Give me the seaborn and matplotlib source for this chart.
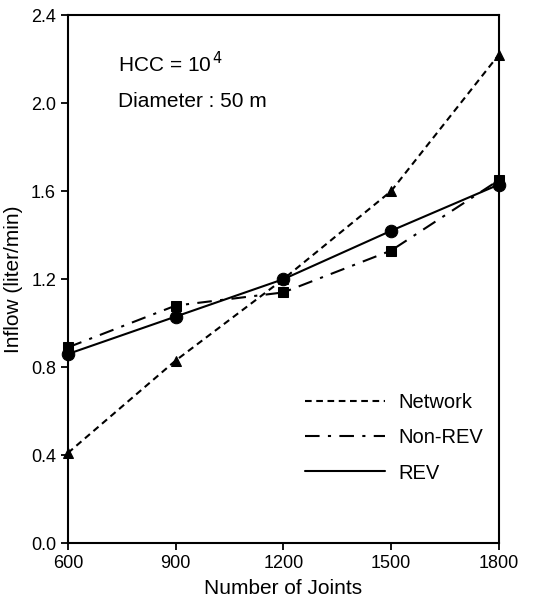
import numpy as np
import pandas as pd
import matplotlib
matplotlib.use("Agg")
import matplotlib.pyplot as plt
from matplotlib.lines import Line2D
import seaborn as sns

joints = [600, 900, 1200, 1500, 1800]
network = [0.41, 0.83, 1.20, 1.60, 2.22]
non_rev = [0.89, 1.08, 1.14, 1.33, 1.65]
rev = [0.86, 1.03, 1.20, 1.42, 1.63]

sns.set_style("ticks")
plt.rcParams['font.family'] = ['Liberation Sans', 'DejaVu Sans']
plt.rcParams['text.color'] = 'black'
plt.rcParams['axes.labelcolor'] = 'black'
plt.rcParams['xtick.color'] = 'black'
plt.rcParams['ytick.color'] = 'black'
plt.rcParams['axes.edgecolor'] = 'black'

df = pd.DataFrame({'joints': joints, 'Network': network, 'Non-REV': non_rev, 'REV': rev})

fig = plt.figure(figsize=(5.34, 6.07), dpi=100)
ax = fig.add_axes([0.127, 0.105, 0.807, 0.870])

styles = {
    'Network': dict(marker='^', dashes=(3.2, 2.2), ms=7),
    'Non-REV': dict(marker='s', dashes=(7, 4, 1.5, 4), ms=7),
    'REV': dict(marker='o', dashes=(None, None), ms=9),
}
for name, st in styles.items():
    sns.lineplot(data=df, x='joints', y=name, ax=ax, color='black', lw=1.5,
                 marker=st['marker'], markersize=st['ms'], markeredgecolor='black',
                 clip_on=False, zorder=3)
    line = ax.lines[-1]
    if st['dashes'][0] is not None:
        line.set_dashes(st['dashes'])

ax.set_xlim(600, 1800)
ax.set_ylim(0, 2.4)
ax.set_xticks(joints)
ax.set_yticks(np.arange(0, 2.41, 0.4))
ax.set_yticklabels([f'{v:.1f}' for v in np.arange(0, 2.41, 0.4)])
for s in ax.spines.values():
    s.set_linewidth(1.5)
    s.set_visible(True)
ax.tick_params(axis='both', direction='out', length=5, width=1.3, labelsize=13)

ax.set_xlabel('Number of Joints', fontsize=15, labelpad=5)
ax.set_ylabel('Inflow (liter/min)', fontsize=15, labelpad=6)

ax.text(0.116, 0.892, r'HCC = 10$^{\,4}$', transform=ax.transAxes, fontsize=15,
        va='baseline')
ax.text(0.116, 0.826, 'Diameter : 50 m', transform=ax.transAxes, fontsize=15,
        va='baseline')

handles = [
    Line2D([], [], color='black', lw=1.5, dashes=(3.2, 2.2)),
    Line2D([], [], color='black', lw=1.5, dashes=(7, 4, 1.5, 4)),
    Line2D([], [], color='black', lw=1.5),
]
ax.legend(handles, ['Network', 'Non-REV', 'REV'], loc='lower left',
          bbox_to_anchor=(0.55, 0.115), frameon=False, fontsize=14.5,
          handlelength=4.0, labelspacing=0.8, handletextpad=0.65,
          borderpad=0, borderaxespad=0)

fig.savefig('out.png', dpi=100)
